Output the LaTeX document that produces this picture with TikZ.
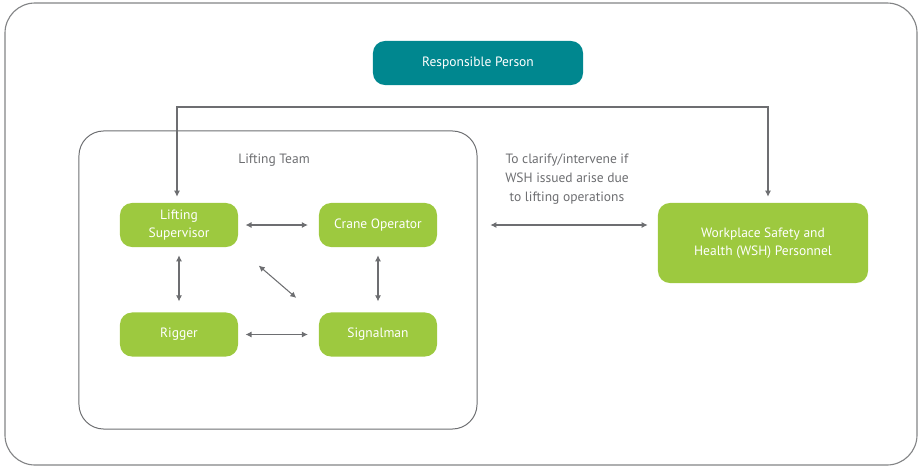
\documentclass[tikz,border=0pt]{standalone}
\usepackage{fontspec}
\setmainfont{PT Sans}
\usetikzlibrary{arrows.meta}
\definecolor{wshgreen}{HTML}{9DC93F}
\definecolor{wshteal}{HTML}{00878F}
\definecolor{wshgray}{HTML}{6D6E71}
\tikzset{
  rolebox/.style={fill=wshgreen, rounded corners=0.3cm, text=white, align=center,
    minimum width=2.95cm, minimum height=1.1cm, font=\fontsize{9.6}{13}\selectfont},
  plain/.style={text=wshgray, align=center, font=\fontsize{9.6}{13.5}\selectfont},
  link/.style={draw=wshgray, line width=0.75pt,
    {Latex[length=1.5mm,width=1.5mm]}-{Latex[length=1.5mm,width=1.5mm]}},
}
\begin{document}
\begin{tikzpicture}[x=0.025cm, y=-0.025cm]
  \useasboundingbox (0,0) rectangle (922,468);
  % outer frame
  \draw[wshgray!85, line width=0.8pt, rounded corners=0.75cm] (5,3) rectangle (917,465);

  \node[rolebox, fill=wshteal, minimum width=5.25cm] (resp) at (478,63) {Responsible Person};

  % lifting team
  \node[draw=wshgray, line width=0.7pt, rounded corners=0.62cm, minimum width=9.95cm, minimum height=7.45cm] (team) at (278,280) {};
  \node[plain] (teamlbl) at (274,160) {Lifting Team};

  \node[rolebox] (ls) at (179,225) {Lifting\\Supervisor};
  \node[rolebox] (co) at (378,225) {Crane Operator};
  \node[rolebox] (rig) at (179,334.5) {Rigger};
  \node[rolebox] (sig) at (378,334.5) {Signalman};

  \node[rolebox, minimum width=5.25cm, minimum height=2cm] (wsh) at (763,243) {Workplace Safety and\\Health (WSH) Personnel};

  \node[plain] (note) at (567,179) {To clarify/intervene if\\WSH issued arise due\\to lifting operations};

  % arrows inside the team
  \draw[link, shorten <=0.18cm, shorten >=0.27cm] (ls) -- (co);
  \draw[link, shorten <=0.18cm, shorten >=0.27cm] (rig) -- (sig);
  \draw[link, shorten <=0.2cm, shorten >=0.27cm] (ls) -- (rig);
  \draw[link, shorten <=0.2cm, shorten >=0.27cm] (co) -- (sig);
  \draw[link, shorten <=0.7cm, shorten >=0.7cm] ([xshift=-0.02cm]ls.south east) -- ([xshift=-0.03cm, yshift=-0.1cm]sig.north west);

  % team to wsh
  \draw[link, shorten <=0.32cm, shorten >=0.25cm] (team.east |- co.east) -- (wsh.west |- co.east);

  % top bus
  \coordinate (bus) at (470,107);
  \draw[link] ([xshift=-0.05cm, yshift=0.15cm]ls.north) |- (bus) -| ([xshift=0.125cm, yshift=0.15cm]wsh.north);
\end{tikzpicture}
\end{document}
